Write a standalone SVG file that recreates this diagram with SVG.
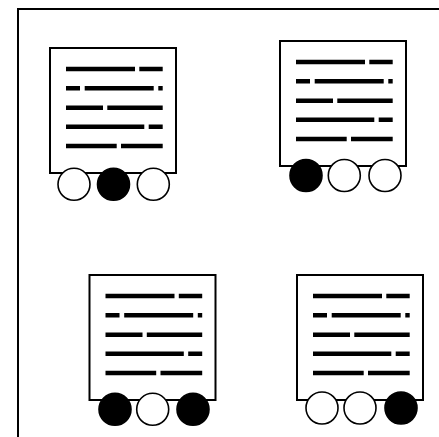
<svg xmlns="http://www.w3.org/2000/svg" xmlns:xlink="http://www.w3.org/1999/xlink" width="439" height="437" viewBox="0 0 439 437">
<style>
.frame{fill:none;stroke:#000;stroke-width:2}
.card{fill:#fff;stroke:#000;stroke-width:2}
.txt{stroke:#000;stroke-width:4.5;stroke-linecap:butt;fill:none}
.off{fill:#fff;stroke:#000;stroke-width:1.6}
.on{fill:#000;stroke:#000;stroke-width:1.6}
</style>
<defs>
<g id="doc">
<rect class="card" x="0" y="0" width="126" height="125"/>
<path class="txt" d="M16 21H85M89.3 21H112.7M16 40.3H30M34.7 40.3H103.7M108.3 40.3H112.7M16 59.7H53M57.3 59.7H112.7M16 78.7H94.3M98.7 78.7H112.7M16 98H66.7M71 98H112.7"/>
</g>
</defs>
<rect width="439" height="437" fill="#fff"/>
<path class="frame" d="M18 440V9H442"/>
<g id="connectors"/>
<g id="node1">
<use xlink:href="#doc" x="50" y="48"/>
<circle class="off" cx="74" cy="184.3" r="16"/>
<circle class="on" cx="113.5" cy="184.3" r="16"/>
<circle class="off" cx="153.3" cy="184.3" r="16"/>
</g>
<g id="node2">
<use xlink:href="#doc" x="280" y="41"/>
<circle class="on" cx="306" cy="175.5" r="16"/>
<circle class="off" cx="344.3" cy="175.5" r="16"/>
<circle class="off" cx="385" cy="175.5" r="16"/>
</g>
<g id="node3">
<use xlink:href="#doc" x="89.5" y="275"/>
<circle class="on" cx="115" cy="409.3" r="16"/>
<circle class="off" cx="152.7" cy="409.3" r="16"/>
<circle class="on" cx="193" cy="409.3" r="16"/>
</g>
<g id="node4">
<use xlink:href="#doc" x="297" y="275"/>
<circle class="off" cx="322" cy="408" r="16"/>
<circle class="off" cx="360" cy="408" r="16"/>
<circle class="on" cx="401" cy="408" r="16"/>
</g>
</svg>
